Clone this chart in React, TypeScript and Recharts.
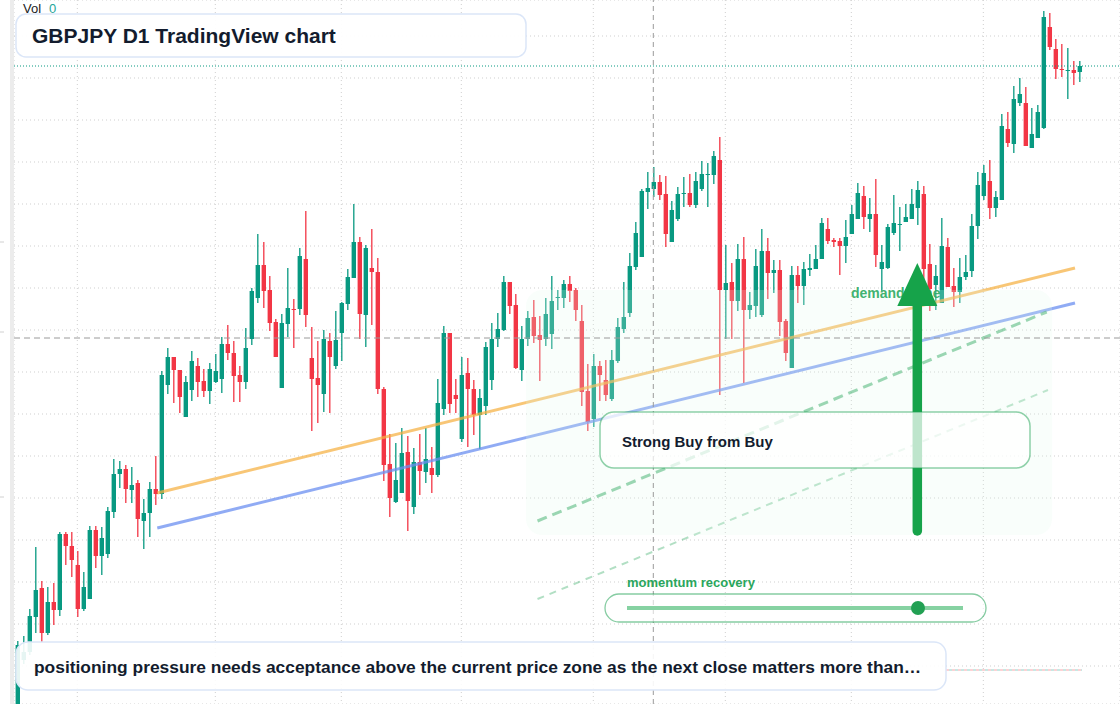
import React from "react";
import {
  ComposedChart,
  Bar,
  XAxis,
  YAxis,
  CartesianGrid,
  ReferenceLine,
  ReferenceArea,
  ReferenceDot,
} from "recharts";

// GBPJPY daily candles, oldest first
const opens = [
  192.88, 193.40, 193.48, 193.83, 194.12, 193.67, 193.98, 193.90, 194.66, 194.54,
  194.35, 193.91, 194.01, 194.70, 194.44, 194.46, 194.88, 195.26, 195.31, 195.10,
  195.17, 194.79, 194.87, 195.11, 195.06, 196.15, 196.43, 196.30, 195.83, 196.10,
  196.34, 196.19, 196.09, 196.18, 196.21, 196.56, 196.47, 196.25, 196.18, 196.61,
  197.02, 197.35, 197.10, 196.78, 196.12, 196.76, 196.91, 196.91, 197.41, 196.42,
  196.22, 196.06, 196.59, 196.34, 196.67, 196.96, 197.22, 197.58, 196.85, 197.32,
  197.28, 196.11, 195.36, 194.98, 195.07, 195.48, 194.93, 195.38, 195.28, 195.32,
  195.25, 195.91, 196.67, 196.05, 195.61, 196.27, 196.11, 195.85, 195.94, 196.20,
  196.61, 196.70, 197.18, 196.95, 196.30, 196.61, 196.83, 196.65, 196.61, 196.66,
  197.02, 197.02, 197.16, 197.10, 196.79, 196.09, 195.81, 196.34, 196.20, 196.01,
  196.39, 196.71, 196.87, 197.33, 197.43, 198.08, 198.11, 198.18, 198.06, 197.58,
  197.81, 198.06, 198.07, 197.95, 198.11, 198.25, 198.25, 198.40, 197.10, 197.18,
  196.99, 197.41, 196.90, 196.94, 196.85, 197.49, 197.27, 197.30, 196.79, 196.32,
  197.25, 197.14, 197.30, 197.31, 197.41, 197.71, 197.60, 197.59, 197.54, 197.66,
  197.81, 198.04, 197.81, 197.86, 197.31, 197.32, 197.67, 197.75, 197.78, 197.81,
  197.92, 198.06, 197.36, 197.15, 196.97, 197.53, 197.14, 197.08, 197.23, 197.29,
  197.74, 198.04, 198.19, 197.92, 198.00, 198.71, 198.56, 198.97, 198.97, 198.52,
  198.62, 198.72, 199.73, 199.51, 199.31, 199.29, 199.30, 199.28,
];

const highs = [
  193.59, 193.64, 193.91, 194.53, 194.19, 194.13, 194.17, 194.68, 194.68, 194.68,
  194.49, 194.28, 194.74, 194.74, 194.73, 194.93, 195.41, 195.39, 195.35, 195.33,
  195.20, 195.01, 195.18, 195.44, 196.29, 196.52, 196.43, 196.30, 196.24, 196.49,
  196.42, 196.31, 196.37, 196.46, 196.63, 196.75, 196.59, 196.34, 196.72, 197.12,
  197.66, 197.58, 197.24, 196.81, 196.86, 197.32, 197.01, 197.52, 197.89, 196.73,
  196.59, 196.70, 196.67, 196.89, 196.98, 197.31, 197.96, 197.63, 197.55, 197.71,
  197.42, 196.13, 195.66, 195.57, 195.72, 195.64, 195.52, 195.66, 195.72, 195.53,
  196.21, 196.74, 196.67, 196.21, 196.43, 196.42, 196.20, 196.11, 196.58, 196.77,
  196.87, 197.24, 197.18, 197.06, 196.74, 196.89, 197.00, 196.84, 197.02, 197.24,
  197.10, 197.20, 197.24, 197.12, 196.95, 196.36, 196.46, 196.39, 196.40, 196.50,
  196.82, 197.18, 197.47, 197.78, 198.11, 198.28, 198.33, 198.25, 198.24, 197.99,
  198.13, 198.23, 198.26, 198.28, 198.39, 198.37, 198.49, 198.63, 197.55, 197.37,
  197.56, 197.63, 197.08, 197.51, 197.71, 197.62, 197.40, 197.40, 196.81, 197.34,
  197.34, 197.38, 197.46, 197.55, 197.82, 197.82, 197.62, 197.62, 197.80, 197.95,
  198.17, 198.14, 198.02, 198.21, 197.55, 197.76, 198.05, 197.93, 197.96, 198.11,
  198.19, 198.14, 197.56, 197.35, 197.82, 197.62, 197.32, 197.42, 197.45, 197.86,
  198.28, 198.35, 198.40, 198.09, 198.86, 198.88, 199.14, 199.22, 199.13, 198.92,
  198.95, 199.89, 199.87, 199.61, 199.56, 199.52, 199.39, 199.39,
];

const lows = [
  192.84, 193.36, 193.45, 193.67, 193.58, 193.65, 193.75, 193.84, 194.35, 194.23,
  193.83, 193.89, 194.01, 194.32, 194.25, 194.42, 194.82, 195.12, 194.97, 194.97,
  194.63, 194.51, 194.63, 194.95, 195.01, 196.06, 195.97, 195.87, 195.83, 195.99,
  196.03, 196.03, 195.96, 196.17, 196.07, 196.40, 195.98, 195.98, 196.11, 196.55,
  196.97, 196.92, 196.69, 196.43, 196.12, 196.63, 196.52, 196.85, 196.73, 195.69,
  195.77, 195.88, 195.87, 196.31, 196.39, 196.90, 197.22, 196.61, 196.53, 196.75,
  196.06, 195.19, 194.83, 194.97, 195.07, 194.69, 194.86, 195.05, 195.17, 195.07,
  195.23, 195.85, 195.87, 195.87, 195.58, 195.53, 195.65, 195.51, 195.85, 196.10,
  196.53, 196.69, 196.86, 196.31, 196.19, 196.54, 196.57, 196.19, 196.54, 196.51,
  196.90, 196.92, 196.98, 196.79, 195.94, 195.69, 195.73, 195.99, 195.99, 195.99,
  196.37, 196.67, 196.83, 197.30, 197.43, 197.91, 198.03, 198.00, 197.53, 197.58,
  197.79, 197.93, 197.93, 197.92, 198.09, 197.93, 198.16, 196.05, 196.61, 196.61,
  196.89, 196.17, 196.81, 196.83, 196.83, 197.01, 197.07, 196.64, 196.39, 196.32,
  196.97, 196.95, 197.24, 197.31, 197.41, 197.56, 197.53, 197.25, 197.37, 197.66,
  197.81, 197.71, 197.68, 197.33, 197.09, 197.31, 197.65, 197.49, 197.78, 197.81,
  197.75, 197.13, 196.89, 196.90, 196.97, 197.13, 196.93, 196.97, 197.20, 197.23,
  197.61, 198.00, 197.81, 197.83, 198.00, 198.53, 198.47, 198.94, 198.54, 198.52,
  198.62, 198.71, 199.50, 199.21, 199.23, 199.01, 199.15, 199.18,
];

const closes = [
  193.55, 193.48, 193.84, 194.10, 193.67, 193.98, 193.90, 194.66, 194.54, 194.40,
  193.91, 194.13, 194.70, 194.44, 194.62, 194.89, 195.26, 195.31, 195.11, 195.15,
  194.81, 194.87, 195.11, 195.06, 196.25, 196.43, 196.30, 196.03, 196.18, 196.39,
  196.18, 196.09, 196.31, 196.29, 196.56, 196.47, 196.24, 196.18, 196.52, 197.09,
  197.35, 197.09, 196.77, 196.43, 196.77, 196.92, 196.90, 197.44, 196.85, 196.21,
  196.15, 196.61, 196.43, 196.60, 196.97, 197.23, 197.58, 196.86, 197.52, 197.28,
  196.11, 195.35, 195.02, 195.20, 195.47, 194.99, 195.38, 195.29, 195.41, 195.25,
  195.97, 196.67, 195.96, 196.01, 196.25, 196.11, 195.85, 196.02, 196.53, 196.61,
  196.71, 197.18, 196.94, 196.32, 196.61, 196.82, 196.64, 196.60, 196.86, 196.99,
  197.03, 197.16, 197.09, 196.90, 196.08, 195.78, 196.34, 196.25, 196.05, 196.40,
  196.73, 196.83, 197.34, 197.67, 198.09, 198.12, 198.18, 198.05, 197.66, 197.90,
  198.06, 198.07, 197.95, 198.19, 198.26, 198.26, 198.44, 197.10, 197.17, 196.99,
  197.41, 196.90, 196.95, 197.34, 197.49, 197.27, 197.30, 196.78, 196.47, 197.25,
  197.14, 197.31, 197.32, 197.41, 197.77, 197.59, 197.58, 197.54, 197.63, 197.86,
  198.07, 197.83, 197.86, 197.45, 197.38, 197.73, 197.77, 197.76, 197.83, 197.96,
  198.10, 197.31, 197.11, 197.24, 197.54, 197.13, 197.08, 197.23, 197.28, 197.74,
  198.15, 198.27, 197.92, 198.03, 198.74, 198.57, 199.01, 199.06, 198.54, 198.66,
  198.88, 199.83, 199.53, 199.31, 199.30, 199.30, 199.27, 199.34,
];

// bar index of each month's first session (vertical grid)
const monthStarts = [10, 33, 54, 74, 96, 118, 139, 161];
const priceGrid = [
  199.64, 199.22, 198.8, 198.38, 197.96, 197.54, 197.12, 196.7,
  196.28, 195.86, 195.44, 195.02, 194.6, 194.18, 193.76, 193.34,
];

const crossBar = 106;
const crossPrice = 196.62;

// drawings, anchored as [bar index, price]
const channelTop = [
  { x: 23.33, y: 195.07 },
  { x: 176.28, y: 197.32 },
];
const channelBottom = [
  { x: 23.33, y: 194.72 },
  { x: 176.28, y: 196.97 },
];
const projectionMain = [
  { x: 86.7, y: 194.79 },
  { x: 171.57, y: 196.88 },
];
const projectionLow = [
  { x: 86.7, y: 194.01 },
  { x: 171.78, y: 196.1 },
];
const demandZone = { x1: 84.78, x2: 172.45, y1: 194.65, y2: 197.1 };
const buyArrow = [
  { x: 150, y: 194.69 },
  { x: 150, y: 197.37 },
];
const demandLabel = { x: 138.95, y: 197.02 };

const UP = "#089981";
const DOWN = "#F23645";
const FONT = "'Liberation Sans', Arial, sans-serif";

const candles = opens.map((o, i) => ({
  i,
  open: o,
  high: highs[i],
  low: lows[i],
  close: closes[i],
}));
const lastClose = closes[closes.length - 1];

function Candle(props: any) {
  const { x, y, width, height, payload } = props;
  if (!payload) return null;
  const { open, close, high, low } = payload;
  const color = close >= open ? UP : DOWN;
  const top = Math.min(y, y + height);
  const h = Math.abs(height);
  const k = h / (high - low || 1);
  const py = (p: number) => top + (high - p) * k;
  const cx = x + width / 2;
  const bodyTop = py(Math.max(open, close));
  const bodyH = Math.max(1, Math.abs(py(open) - py(close)));
  return (
    <g>
      <line x1={cx} x2={cx} y1={top} y2={top + h} stroke={color} strokeWidth={1.3} />
      <rect x={cx - 2.2} y={bodyTop} width={4.4} height={bodyH} fill={color} />
    </g>
  );
}

function ZoneShape(props: any) {
  const { x, y, width, height } = props;
  return (
    <rect x={x} y={y} width={width} height={height} rx={16} fill="rgb(228,249,235)" fillOpacity={0.22} />
  );
}

function ArrowShape(props: any) {
  const { x1, y1, x2, y2 } = props;
  const tipY = Math.min(y1, y2);
  const tailY = Math.max(y1, y2);
  const cx = (x1 + x2) / 2;
  const baseY = tipY + 43;
  return (
    <g>
      <line x1={cx} x2={cx} y1={tailY} y2={baseY} stroke="#16a34a" strokeWidth={9.5} strokeLinecap="round" />
      <path d={`M${cx} ${tipY} L${cx + 20} ${baseY} L${cx - 20} ${baseY} Z`} fill="#16a34a" />
    </g>
  );
}

function LabelShape(props: any) {
  const { cx, cy } = props;
  return (
    <text x={cx} y={cy} fontFamily={FONT} fontSize={14} fontWeight={700} fill="#2aa85e" fillOpacity={0.9}>
      demand zone
    </text>
  );
}

export default function App() {
  return (
    <div style={{ position: "absolute", left: 0, top: 0, width: 1120, height: 704, background: "#fff", overflow: "hidden" }}>
      <ComposedChart
        width={1120}
        height={704}
        data={candles}
        margin={{ top: 0, right: 0, bottom: 0, left: 14 }}
      >
        <CartesianGrid stroke="#cfcfcf" strokeDasharray="1 3" />
        <XAxis type="number" dataKey="i" domain={[-0.55, 183.78]} ticks={monthStarts} allowDataOverflow hide />
        <YAxis type="number" domain={[192.96, 200]} ticks={priceGrid} allowDataOverflow hide />
        <Bar
          dataKey={(d: any) => [d.low, d.high]}
          barSize={5}
          shape={<Candle />}
          isAnimationActive={false}
        />
        <ReferenceLine segment={channelTop} stroke="#f5b041" strokeOpacity={0.72} strokeWidth={3} zIndex={420} />
        <ReferenceLine segment={channelBottom} stroke="#6b8ff0" strokeOpacity={0.75} strokeWidth={3} zIndex={420} />
        <ReferenceLine segment={projectionMain} stroke="#22a355" strokeOpacity={0.55} strokeWidth={3} strokeDasharray="10 6" zIndex={420} />
        <ReferenceLine segment={projectionLow} stroke="#22a355" strokeOpacity={0.35} strokeWidth={2} strokeDasharray="7 6" zIndex={420} />
        <ReferenceArea {...demandZone} shape={<ZoneShape />} zIndex={430} />
        <ReferenceLine y={lastClose} stroke={UP} strokeWidth={1.2} strokeDasharray="1 2" zIndex={440} />
        <ReferenceLine x={crossBar} stroke="#9a9a9a" strokeWidth={1} strokeDasharray="5 4" zIndex={440} />
        <ReferenceLine y={crossPrice} stroke="#9a9a9a" strokeWidth={1} strokeDasharray="6 4" zIndex={440} />
        <ReferenceDot x={demandLabel.x} y={demandLabel.y} shape={<LabelShape />} zIndex={450} />
        <ReferenceLine segment={buyArrow} shape={<ArrowShape />} zIndex={460} />
      </ComposedChart>

      <svg
        width={1120}
        height={704}
        style={{ position: "absolute", left: 0, top: 0, pointerEvents: "none" }}
        fontFamily={FONT}
      >
        <rect x={10} y={0} width={4} height={704} fill="#ececec" />
        <line x1={0} x2={4} y1={242} y2={242} stroke="#d0d0d0" />
        <line x1={0} x2={4} y1={332} y2={332} stroke="#d0d0d0" />
        <line x1={0} x2={4} y1={497} y2={497} stroke="#d0d0d0" />

        <text x={23} y={13} fontSize={13} fill="#222">Vol</text>
        <text x={49} y={13} fontSize={13} fill="#26a69a">0</text>

        <rect x={16} y={14} width={510} height={43} rx={10} fill="rgba(255,255,255,0.93)" stroke="#dbe6f8" strokeWidth={1.5} />
        <text x={32} y={43} fontSize={21} fontWeight={700} fill="#131c2e">GBPJPY D1 TradingView chart</text>

        <rect x={600} y={412} width={430} height={56} rx={14} fill="rgba(255,255,255,0.72)" stroke="rgba(34,163,85,0.5)" strokeWidth={1.5} />
        <text x={622} y={447} fontSize={15} fontWeight={700} fill="#131c2e">Strong Buy from Buy</text>

        <text x={627} y={587} fontSize={13} fontWeight={700} fill="#2aa65c">momentum recovery</text>
        <rect x={605} y={594} width={381} height={28} rx={14} fill="rgba(255,255,255,0.6)" stroke="rgba(34,163,85,0.55)" strokeWidth={1.3} />
        <line x1={627} x2={963} y1={608} y2={608} stroke="#86d2a2" strokeWidth={4} />
        <circle cx={918} cy={608} r={7} fill="#22a053" />

        <line x1={946} x2={1082} y1={670} y2={670} stroke="#f23645" strokeOpacity={0.45} strokeDasharray="3 3" />
        <line x1={949} x2={1082} y1={670} y2={670} stroke="#089981" strokeOpacity={0.45} strokeDasharray="3 3" />

        <rect x={16} y={642} width={930} height={48} rx={12} fill="rgba(255,255,255,0.9)" stroke="#dbe6f8" strokeWidth={1.5} />
        <text x={34} y={673} fontSize={17.4} fontWeight={700} fill="#131c2e">
          positioning pressure needs acceptance above the current price zone as the next close matters more than…
        </text>
      </svg>
    </div>
  );
}
